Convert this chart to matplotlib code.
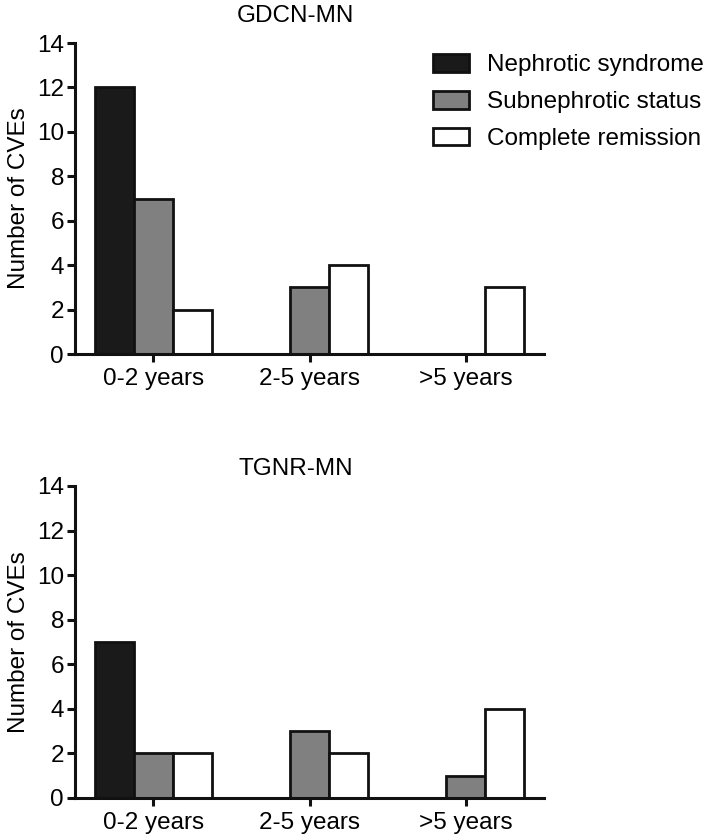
import matplotlib.pyplot as plt
import numpy as np

plt.rcParams['font.family'] = ['Liberation Sans', 'DejaVu Sans']
plt.rcParams['font.size'] = 17.5

groups = ['0-2 years', '2-5 years', '>5 years']
status = ['Nephrotic syndrome', 'Subnephrotic status', 'Complete remission']
colors = ['#1a1a1a', '#808080', '#ffffff']

# GDCN-MN
gdcn = {
    'Nephrotic syndrome': [12, 0, 0],
    'Subnephrotic status': [7, 3, 0],
    'Complete remission': [2, 4, 3],
}
# TGNR-MN
tgnr = {
    'Nephrotic syndrome': [7, 0, 0],
    'Subnephrotic status': [2, 3, 1],
    'Complete remission': [2, 2, 4],
}

W, H = 716, 840
fig = plt.figure(figsize=(W / 100, H / 100), dpi=100)

def drawPanel(rect, data, title, title_pad):
    ax = fig.add_axes(rect)
    x = np.arange(len(groups))
    width = 0.25
    handles = []
    for k, name in enumerate(status):
        vals = data[name]
        b = ax.bar(x + (k - 1) * width, vals, width, color=colors[k],
                   edgecolor='#111111', linewidth=2, label=name)
        handles.append(b)
    ax.set_xlim(-0.5, 2.5)
    ax.set_ylim(0, 14)
    ax.set_yticks(range(0, 15, 2))
    ax.set_xticks(x)
    ax.set_xticklabels(groups)
    ax.set_ylabel('Number of CVEs', labelpad=5)
    ax.set_title(title, x=0.47, pad=title_pad, fontsize=17.5)
    for s in ['top', 'right']:
        ax.spines[s].set_visible(False)
    for s in ['left', 'bottom']:
        ax.spines[s].set_linewidth(2.2)
        ax.spines[s].set_color('#111111')
    ax.tick_params(axis='both', width=2.2, length=6, color='#111111')
    ax.tick_params(axis='x', pad=4)
    ax.tick_params(axis='y', pad=2)
    return ax, handles

ax1, handles = drawPanel([75 / W, 1 - 354 / H, 469 / W, 311 / H], gdcn, 'GDCN-MN', 15)
ax2, _ = drawPanel([75 / W, 1 - 798 / H, 469 / W, 312 / H], tgnr, 'TGNR-MN', 8)

fig.legend(handles=handles, labels=status, loc='upper left',
           bbox_to_anchor=(433 / W, 1 - 54 / H), frameon=False, borderpad=0,
           borderaxespad=0, handlelength=1.48, handleheight=0.74,
           handletextpad=0.74, labelspacing=0.6, fontsize=17.5)

plt.savefig('out.png', dpi=100)
